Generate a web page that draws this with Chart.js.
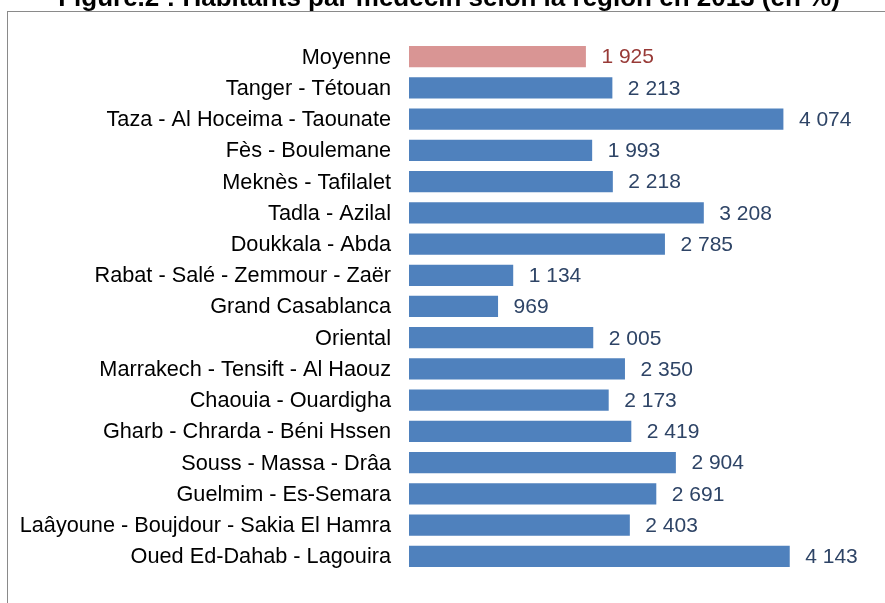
<!DOCTYPE html>
<html>
<head>
<meta charset="utf-8">
<script src="https://cdn.jsdelivr.net/npm/chart.js@4.4.1/dist/chart.umd.min.js"></script>
<style>
  html, body { margin: 0; padding: 0; background: #fff; }
  #wrap { position: relative; width: 885px; height: 603px; overflow: hidden; background: #fff; }
  #frame { position: absolute; left: 6.5px; top: 11.3px; width: 900px; height: 700px; border: 1.5px solid #8a8a8a; box-sizing: border-box; }
  #c { position: absolute; left: 0; top: 0; }
</style>
</head>
<body>
<div id="wrap">
  <div id="frame"></div>
  <canvas id="c" width="885" height="603"></canvas>
</div>
<script>
const chartTitle = "Figure.2 : Habitants par médecin selon la région en 2013 (en %)";
const categories = [
  "Moyenne",
  "Tanger - Tétouan",
  "Taza - Al Hoceima - Taounate",
  "Fès - Boulemane",
  "Meknès - Tafilalet",
  "Tadla - Azilal",
  "Doukkala - Abda",
  "Rabat - Salé - Zemmour - Zaër",
  "Grand Casablanca",
  "Oriental",
  "Marrakech - Tensift - Al Haouz",
  "Chaouia - Ouardigha",
  "Gharb - Chrarda - Béni Hssen",
  "Souss - Massa - Drâa",
  "Guelmim - Es-Semara",
  "Laâyoune - Boujdour - Sakia El Hamra",
  "Oued Ed-Dahab - Lagouira"
];
const habitantsParMedecin = [1925, 2213, 4074, 1993, 2218, 3208, 2785, 1134, 969, 2005, 2350, 2173, 2419, 2904, 2691, 2403, 4143];

const FONT = "'Liberation Sans', Arial, sans-serif";
const barColors = categories.map((c, i) => i === 0 ? "#D99594" : "#4F81BD");
const labelColors = categories.map((c, i) => i === 0 ? "#983A37" : "#2E4466");

function fmt(v) {
  return String(v).replace(/\B(?=(\d{3})+(?!\d))/g, " ");
}

const titlePlugin = {
  id: "cutTitle",
  afterDraw(chart) {
    const ctx = chart.ctx;
    ctx.save();
    ctx.font = "bold 26px " + FONT;
    ctx.fillStyle = "#000";
    ctx.textAlign = "center";
    ctx.textBaseline = "alphabetic";
    ctx.fillText(chartTitle, 449, 6.2);
    ctx.restore();
  }
};

const valueLabels = {
  id: "valueLabels",
  afterDatasetsDraw(chart) {
    const ctx = chart.ctx;
    const meta = chart.getDatasetMeta(0);
    ctx.save();
    ctx.font = "21px " + FONT;
    ctx.textAlign = "left";
    ctx.textBaseline = "middle";
    meta.data.forEach((bar, i) => {
      ctx.fillStyle = labelColors[i];
      ctx.fillText(fmt(habitantsParMedecin[i]), bar.x + 15.5, bar.y + 1);
    });
    ctx.restore();
  }
};

new Chart(document.getElementById("c"), {
  type: "bar",
  data: {
    labels: categories,
    datasets: [{
      data: habitantsParMedecin,
      backgroundColor: barColors,
      borderWidth: 0,
      categoryPercentage: 1,
      barPercentage: 0.68
    }]
  },
  options: {
    indexAxis: "y",
    responsive: false,
    animation: false,
    devicePixelRatio: 1,
    layout: { padding: { top: 41, bottom: 23, right: 16.5, left: 0 } },
    plugins: {
      legend: { display: false },
      title: { display: false },
      tooltip: { enabled: false }
    },
    scales: {
      x: { display: false, min: 0, max: 5000 },
      y: {
        grid: { display: false, drawTicks: false },
        border: { display: false },
        ticks: {
          color: "#000",
          padding: 18,
          labelOffset: 1,
          font: { family: FONT, size: 21.7 }
        },
        afterFit(scale) { scale.width = 409; }
      }
    }
  },
  plugins: [titlePlugin, valueLabels]
});
</script>
</body>
</html>
